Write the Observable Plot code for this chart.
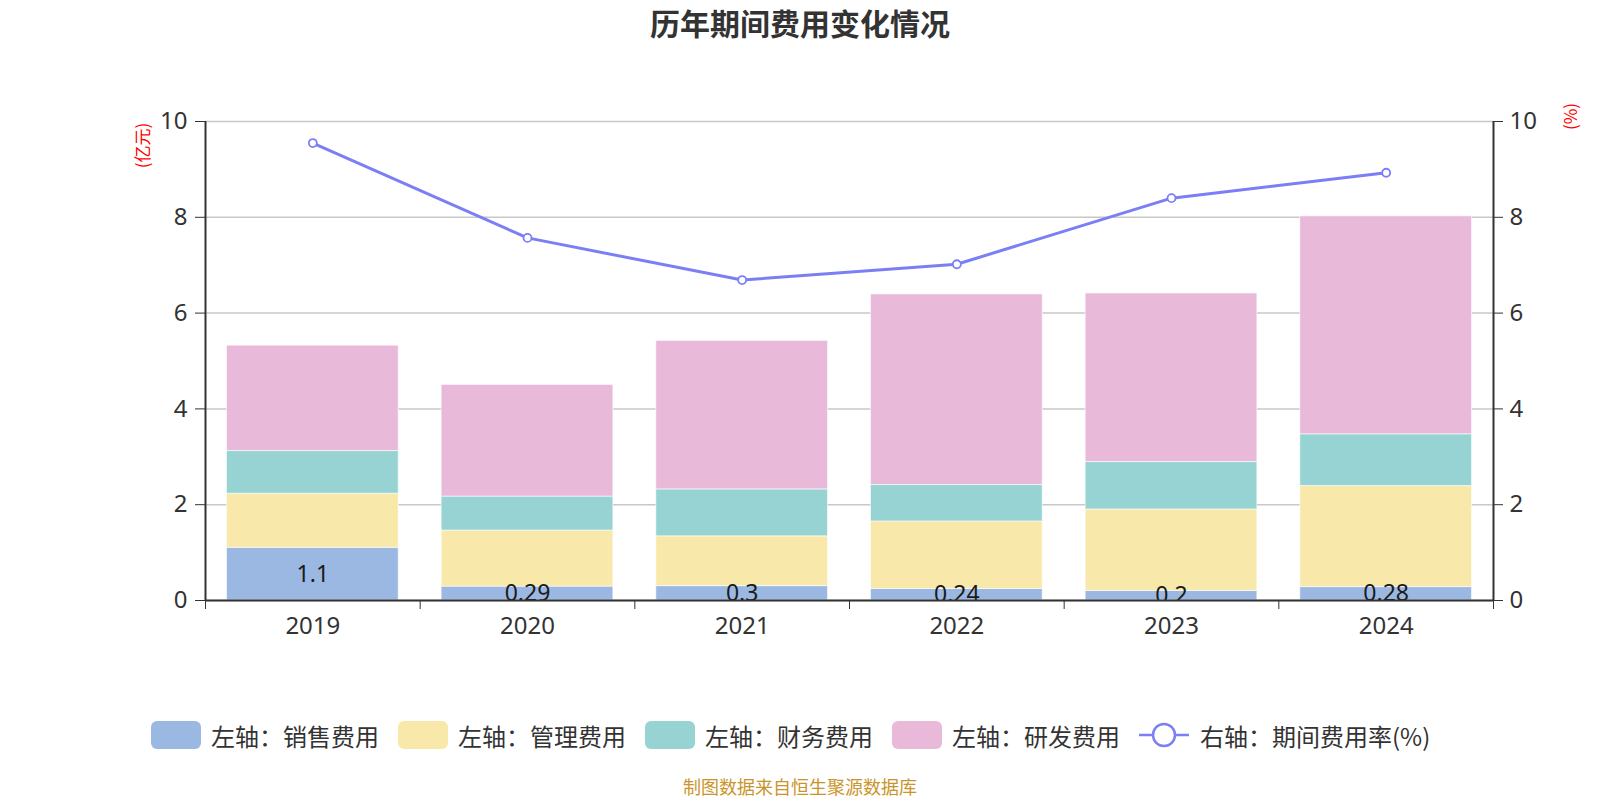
<!DOCTYPE html>
<html>
<head>
<meta charset="utf-8">
<script src="https://cdn.jsdelivr.net/npm/d3@7"></script>
<script src="https://cdn.jsdelivr.net/npm/@observablehq/plot@0.6"></script>
<style>
  html, body { margin: 0; padding: 0; background: #fff; }
  body { width: 1600px; height: 800px; position: relative; overflow: hidden;
         font-family: "Noto Sans", "Noto Sans CJK SC", sans-serif; }
  #title { position: absolute; top: 0; left: 0; width: 1600px; height: 45px; line-height: 45px;
           text-align: center; font-size: 30px; font-weight: bold; color: #333;
           font-family: "Noto Sans CJK SC", sans-serif; }
  #chart { position: absolute; top: 60px; left: 0; }
  #legend { position: absolute; top: 721px; left: 151px; height: 28px; display: flex; align-items: center;
            font-size: 24px; color: #333; font-family: "Noto Sans CJK SC", sans-serif; white-space: nowrap; }
  .item { display: flex; align-items: center; margin-right: 19px; }
  .sw { width: 50px; height: 28px; border-radius: 6px; margin-right: 10px; }
  .lsw { width: 50px; height: 28px; margin-right: 11px; }
  #footer { position: absolute; top: 774px; left: 0; width: 1600px; text-align: center; line-height: 24px;
            font-size: 18px; color: #c9952a; font-family: "Noto Sans CJK SC", sans-serif; }
</style>
</head>
<body>
<div id="title">历年期间费用变化情况</div>
<div id="chart"></div>
<div id="legend"></div>
<div id="footer">制图数据来自恒生聚源数据库</div>
<script>
const years = ["2019", "2020", "2021", "2022", "2023", "2024"];
const sales   = [1.1, 0.29, 0.3, 0.24, 0.2, 0.28];
const admin   = [1.13, 1.17, 1.04, 1.41, 1.70, 2.11];
const finance = [0.89, 0.71, 0.98, 0.76, 0.99, 1.08];
const rnd     = [2.20, 2.33, 3.10, 3.98, 3.52, 4.55];
const rate    = [9.55, 7.57, 6.69, 7.02, 8.40, 8.93];
const salesLabels = ["1.1", "0.29", "0.3", "0.24", "0.2", "0.28"];

const seriesNames = ["左轴：销售费用", "左轴：管理费用", "左轴：财务费用", "左轴：研发费用"];
const seriesColors = ["#9bb8e2", "#f8e8aa", "#98d3d4", "#e8b9d8"];
const lineName = "右轴：期间费用率(%)";
const lineColor = "#7b7ff5";
const yTicks = [0, 2, 4, 6, 8, 10];

const seriesValues = [sales, admin, finance, rnd];
const stacked = [];
years.forEach((yr, i) => {
  let base = 0;
  seriesValues.forEach((arr, s) => {
    stacked.push({i, year: yr, series: seriesNames[s], y1: base, y2: base + arr[i]});
    base += arr[i];
  });
});
const idx = years.map((_, i) => i);
const boundaries = d3.range(-0.5, years.length, 1);
const lineData = years.map((yr, i) => ({i, rate: rate[i]}));
const labelData = years.map((yr, i) => ({i, v: sales[i], t: salesLabels[i]}));

const plot = Plot.plot({
  width: 1600,
  height: 600,
  marginLeft: 205,
  marginRight: 107,
  marginTop: 61,
  marginBottom: 60,
  style: { color: "#333", fontFamily: "'Noto Sans', 'Noto Sans CJK SC', sans-serif", background: "transparent" },
  x: { type: "linear", domain: [-0.5, years.length - 0.5] },
  y: { domain: [0, 10] },
  color: { domain: seriesNames, range: seriesColors },
  marks: [
    Plot.gridY(yTicks, { stroke: "#c8c8c8", strokeOpacity: 1, strokeWidth: 1.5 }),
    Plot.rectY(stacked, {
      x1: d => d.i - 0.4, x2: d => d.i + 0.4, y1: "y1", y2: "y2",
      fill: "series", stroke: "#fff", strokeWidth: 1, strokeOpacity: 0.6
    }),
    Plot.text(labelData, {
      x: "i", y: d => d.v / 2, text: "t", fontSize: 23, fill: "#1a1a1a", clip: true
    }),
    Plot.line(lineData, { x: "i", y: "rate", stroke: lineColor, strokeWidth: 3 }),
    Plot.dot(lineData, { x: "i", y: "rate", r: 4, fill: "#fff", stroke: lineColor, strokeWidth: 1.8 }),
    Plot.axisY({ anchor: "left", ticks: yTicks, tickSize: 10, tickPadding: 8, fontSize: 24, label: null }),
    Plot.axisY({ anchor: "right", ticks: yTicks, tickSize: 9, tickPadding: 7, fontSize: 24, label: null }),
    Plot.axisX({ ticks: boundaries, tickSize: 9, tickFormat: () => "", label: null }),
    Plot.axisX({ ticks: idx, tickSize: 0, tickPadding: 16, tickFormat: i => years[i], fontSize: 24, label: null }),
    Plot.ruleX([-0.5, years.length - 0.5], { stroke: "#333", strokeWidth: 2 }),
    Plot.ruleY([0], { stroke: "#333", strokeWidth: 2 }),
    Plot.text(["(亿元)"], { frameAnchor: "top-left", dx: -62, dy: 24, rotate: -90, fontSize: 17, fill: "#ff0000",
      textAnchor: "middle", lineAnchor: "middle", fontFamily: "Noto Sans CJK SC" }),
    Plot.text(["(%)"], { frameAnchor: "top-right", dx: 78, dy: -5, rotate: -90, fontSize: 17, fill: "#ff0000",
      textAnchor: "middle", lineAnchor: "middle", fontFamily: "Noto Sans CJK SC" })
  ]
});
document.getElementById("chart").appendChild(plot);

const legend = document.getElementById("legend");
seriesNames.forEach((name, s) => {
  const it = document.createElement("div");
  it.className = "item";
  it.innerHTML = `<div class="sw" style="background:${seriesColors[s]}"></div><span>${name}</span>`;
  legend.appendChild(it);
});
const li = document.createElement("div");
li.className = "item";
li.innerHTML = `<svg class="lsw" viewBox="0 0 50 28" width="50" height="28">
  <line x1="0" y1="14" x2="50" y2="14" stroke="${lineColor}" stroke-width="2.5"/>
  <circle cx="25" cy="14" r="11" fill="#fff" stroke="${lineColor}" stroke-width="2.5"/></svg><span>${lineName}</span>`;
legend.appendChild(li);
</script>
</body>
</html>
